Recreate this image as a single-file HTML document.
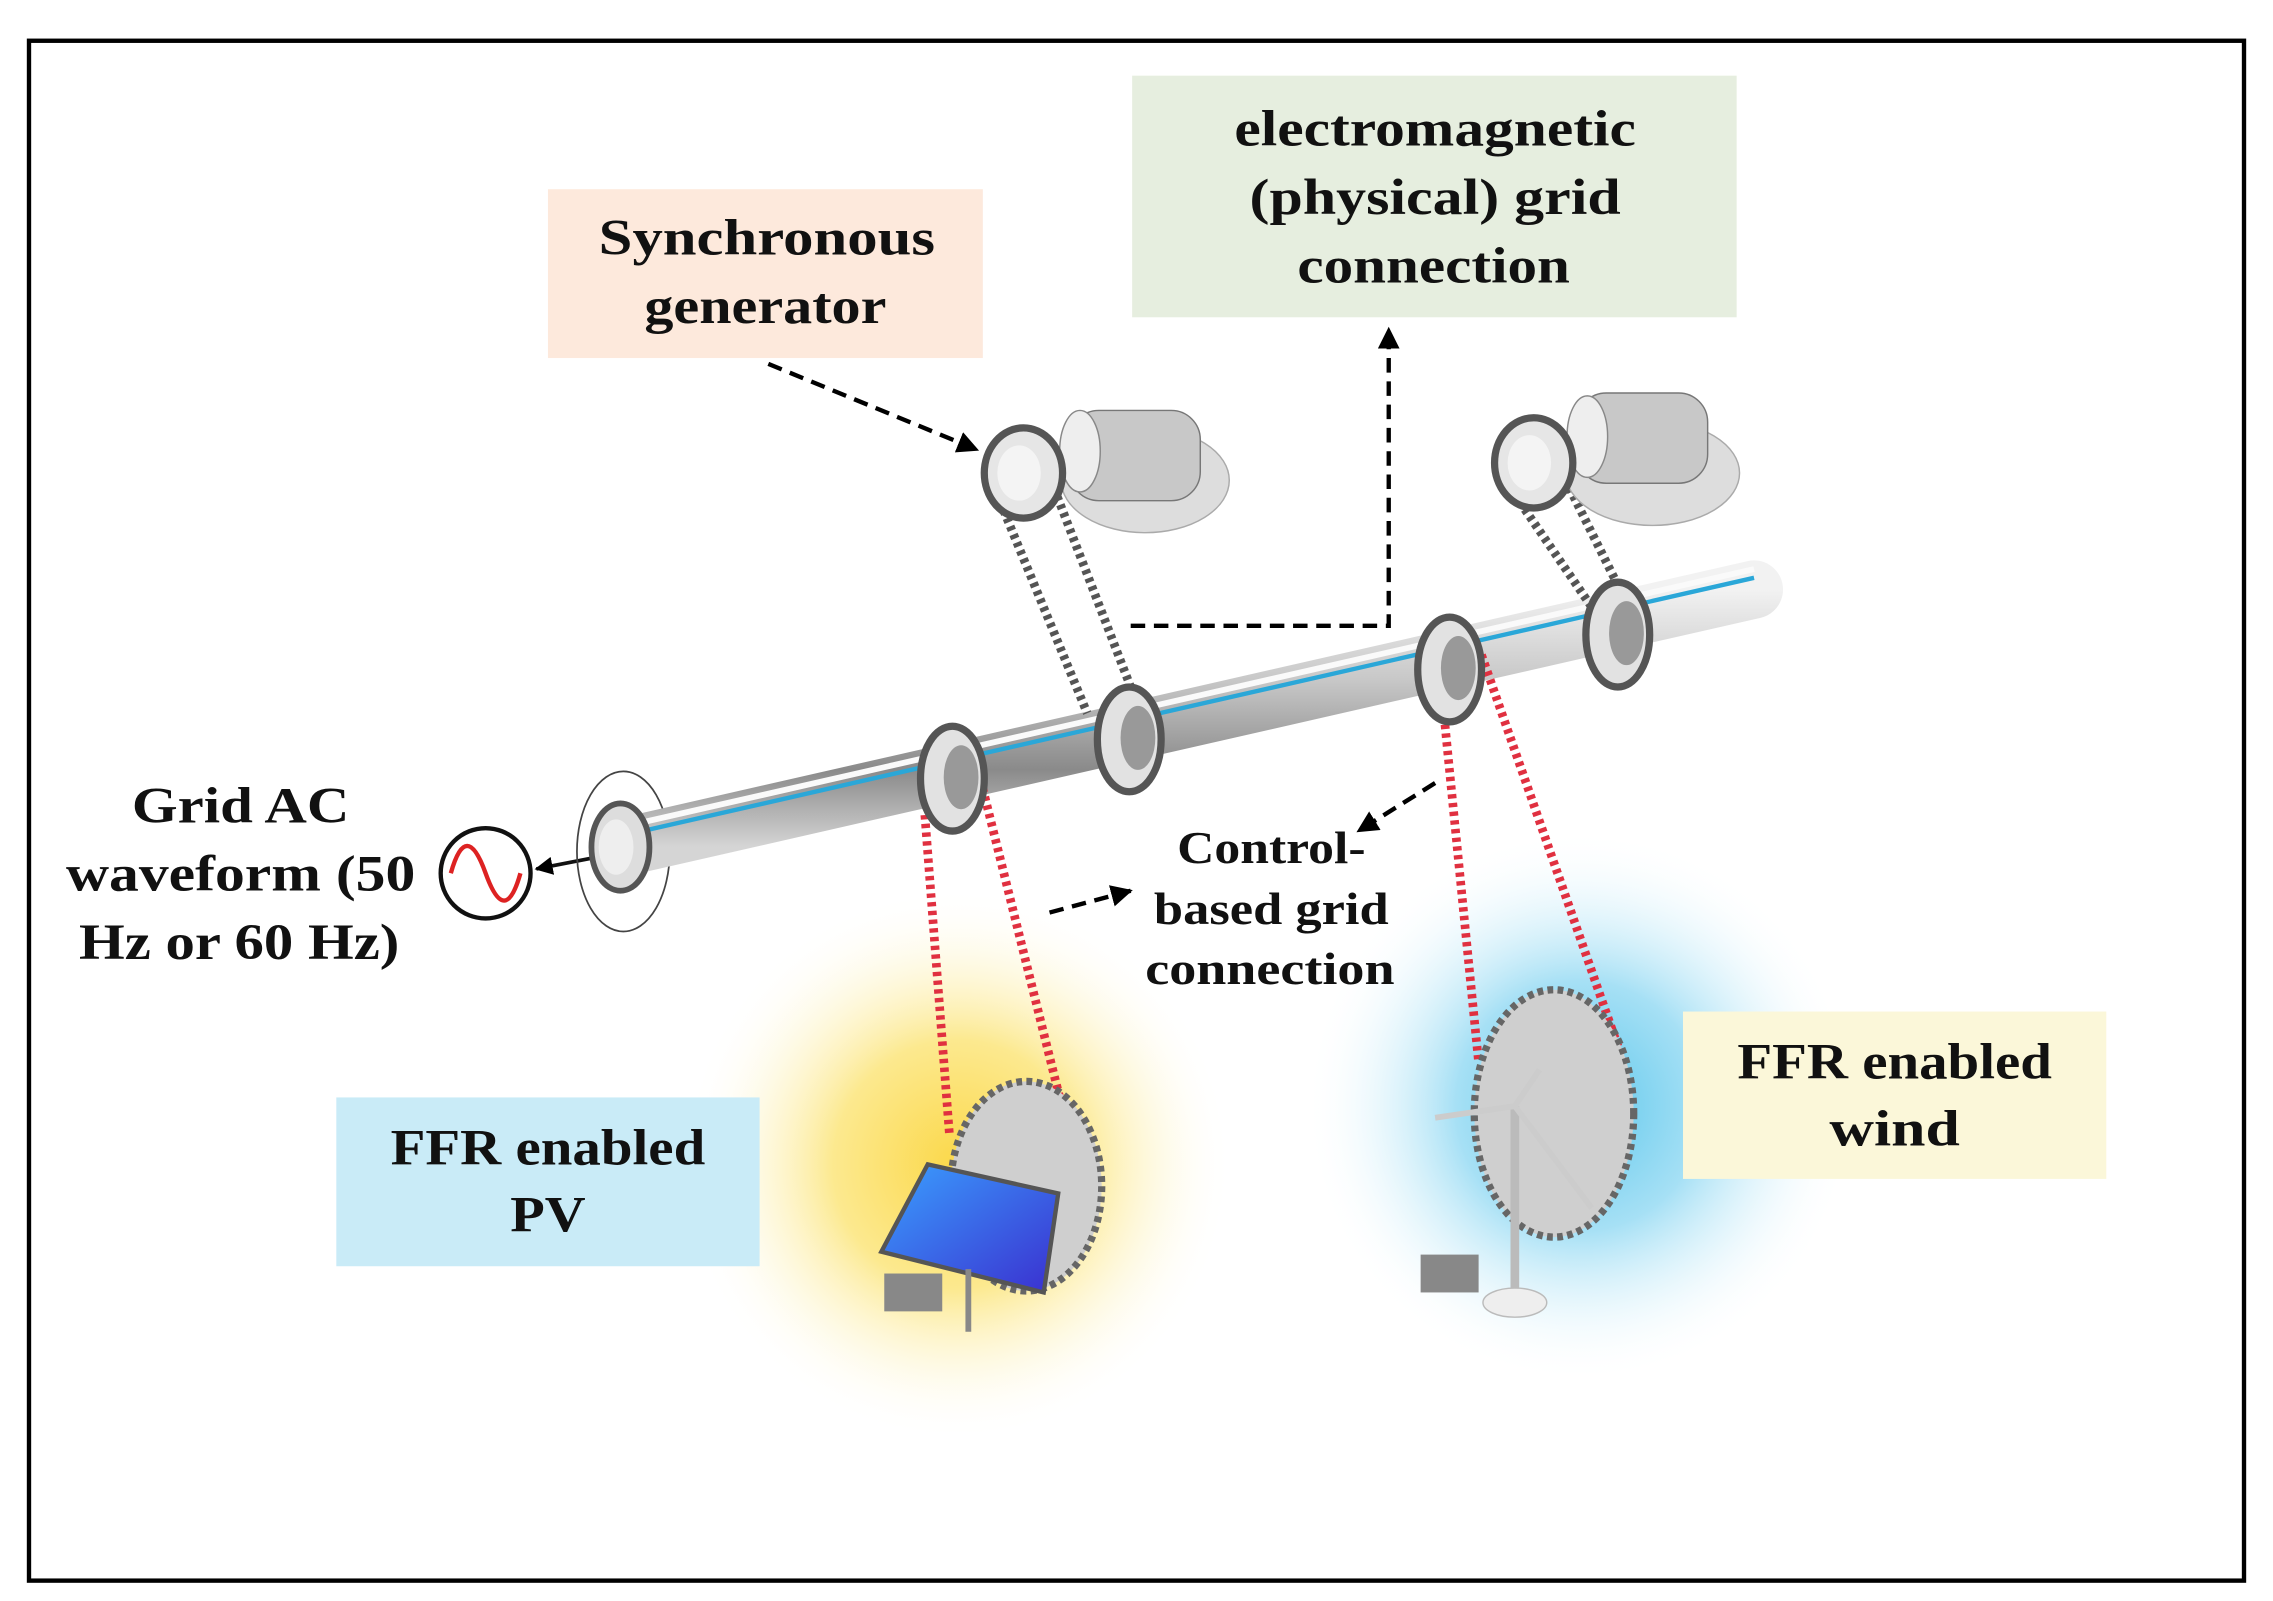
<!DOCTYPE html>
<html><head><meta charset="utf-8"><style>
html,body{margin:0;padding:0;background:#fff;}
svg{display:block;}
text{font-family:"Liberation Serif",serif;font-weight:bold;fill:#111;}
</style></head><body>
<svg width="2273" height="1601" viewBox="0 0 1568 1100" preserveAspectRatio="none" xmlns="http://www.w3.org/2000/svg">
<defs>
<radialGradient id="gy" cx="0.5" cy="0.5" r="0.5">
<stop offset="0" stop-color="#fbd84a"/><stop offset="0.45" stop-color="#fce98f"/><stop offset="1" stop-color="#fff" stop-opacity="0"/></radialGradient>
<radialGradient id="gb" cx="0.5" cy="0.5" r="0.5">
<stop offset="0" stop-color="#5fc8ec"/><stop offset="0.45" stop-color="#a6e0f5"/><stop offset="1" stop-color="#fff" stop-opacity="0"/></radialGradient>
<linearGradient id="sh" x1="0" y1="0" x2="0" y2="1">
<stop offset="0" stop-color="#f2f2f2"/><stop offset="0.35" stop-color="#c8c8c8"/><stop offset="0.7" stop-color="#8a8a8a"/><stop offset="1" stop-color="#d5d5d5"/></linearGradient>
<linearGradient id="pv" x1="0" y1="0" x2="1" y2="1">
<stop offset="0" stop-color="#3aa0ff"/><stop offset="1" stop-color="#3a2fcf"/></linearGradient>
<marker id="ah" viewBox="0 0 10 10" refX="9" refY="5" markerWidth="5" markerHeight="5" orient="auto"><path d="M0,0L10,5L0,10z" fill="#000"/></marker>
</defs>
<rect x="20" y="28" width="1528" height="1058" fill="#fff" stroke="#000" stroke-width="3"/>
<circle cx="660" cy="800" r="190" fill="url(#gy)"/>
<circle cx="1090" cy="760" r="190" fill="url(#gb)"/>
<rect x="378" y="130" width="300" height="116" fill="#fde9dc"/>
<text x="529" y="175" font-size="35" text-anchor="middle" textLength="232" lengthAdjust="spacingAndGlyphs">Synchronous</text>
<text x="528" y="222" font-size="35" text-anchor="middle" textLength="167" lengthAdjust="spacingAndGlyphs">generator</text>
<rect x="781" y="52" width="417" height="166" fill="#e6eedf"/>
<text x="990" y="100" font-size="35" text-anchor="middle" textLength="277" lengthAdjust="spacingAndGlyphs">electromagnetic</text>
<text x="990" y="147" font-size="35" text-anchor="middle" textLength="256" lengthAdjust="spacingAndGlyphs">(physical)  grid</text>
<text x="989" y="194" font-size="35" text-anchor="middle" textLength="188" lengthAdjust="spacingAndGlyphs">connection</text>
<rect x="232" y="754" width="292" height="116" fill="#c9ebf7"/>
<text x="378" y="800" font-size="35" text-anchor="middle" textLength="217" lengthAdjust="spacingAndGlyphs">FFR enabled</text>
<text x="378" y="846" font-size="35" text-anchor="middle" textLength="52" lengthAdjust="spacingAndGlyphs">PV</text>
<rect x="1161" y="695" width="292" height="115" fill="#fbf7d9"/>
<text x="1307" y="741" font-size="35" text-anchor="middle" textLength="217" lengthAdjust="spacingAndGlyphs">FFR enabled</text>
<text x="1307" y="787" font-size="35" text-anchor="middle" textLength="90" lengthAdjust="spacingAndGlyphs">wind</text>
<text x="166" y="565" font-size="35" text-anchor="middle" textLength="150" lengthAdjust="spacingAndGlyphs">Grid AC</text>
<text x="166" y="612" font-size="35" text-anchor="middle" textLength="241" lengthAdjust="spacingAndGlyphs">waveform (50</text>
<text x="165" y="659" font-size="35" text-anchor="middle" textLength="221" lengthAdjust="spacingAndGlyphs">Hz or 60 Hz)</text>
<text x="877" y="593" font-size="31" text-anchor="middle" textLength="130" lengthAdjust="spacingAndGlyphs">Control-</text>
<text x="877" y="635" font-size="31" text-anchor="middle" textLength="162" lengthAdjust="spacingAndGlyphs">based grid</text>
<text x="876" y="676" font-size="31" text-anchor="middle" textLength="172" lengthAdjust="spacingAndGlyphs">connection</text>
<circle cx="335" cy="600" r="31" fill="#fff" stroke="#111" stroke-width="3"/>
<path d="M311,600 C318,575 326,575 335,600 C344,625 352,625 359,600" fill="none" stroke="#d22" stroke-width="3"/>
<line x1="432" y1="585" x2="370" y2="597" stroke="#111" stroke-width="2.5" marker-end="url(#ah)"/>
<ellipse cx="430" cy="585" rx="32" ry="55" fill="none" stroke="#444" stroke-width="1.2"/>
<line x1="430" y1="582" x2="1210" y2="405" stroke="url(#sh)" stroke-width="40" stroke-linecap="round"/>
<line x1="430" y1="574" x2="1210" y2="397" stroke="#2aa7d8" stroke-width="3"/>
<line x1="430" y1="568" x2="1210" y2="391" stroke="#fafafa" stroke-width="4"/>
<ellipse cx="428" cy="582" rx="20" ry="30" fill="#ddd" stroke="#555" stroke-width="4"/>
<ellipse cx="425" cy="582" rx="12" ry="19" fill="#eee"/>
<g stroke="#555" stroke-width="6" stroke-dasharray="3 3" fill="none">
<line x1="690" y1="345" x2="750" y2="490"/><line x1="725" y1="330" x2="785" y2="485"/>
<line x1="1045" y1="340" x2="1100" y2="420"/><line x1="1080" y1="330" x2="1125" y2="420"/>
</g>
<g stroke="#e03040" stroke-width="6" stroke-dasharray="3 3" fill="none">
<line x1="638" y1="560" x2="655" y2="780"/><line x1="675" y1="530" x2="750" y2="830"/>
<line x1="995" y1="480" x2="1020" y2="730"/><line x1="1022" y1="450" x2="1120" y2="730"/>
</g>
<g fill="#e2e2e2" stroke="#555" stroke-width="5">
<ellipse cx="657" cy="535" rx="22" ry="36"/>
<ellipse cx="779" cy="508" rx="22" ry="36"/>
<ellipse cx="1000" cy="460" rx="22" ry="36"/>
<ellipse cx="1116" cy="436" rx="22" ry="36"/>
</g>
<g fill="#999">
<ellipse cx="663" cy="534" rx="12" ry="22"/><ellipse cx="785" cy="507" rx="12" ry="22"/>
<ellipse cx="1006" cy="459" rx="12" ry="22"/><ellipse cx="1122" cy="435" rx="12" ry="22"/>
</g>
<g>
<ellipse cx="790" cy="330" rx="58" ry="36" fill="#ddd" stroke="#aaa"/>
<rect x="738" y="282" width="90" height="62" rx="20" fill="#c8c8c8" stroke="#777"/>
<ellipse cx="745" cy="310" rx="14" ry="28" fill="#eee" stroke="#888"/>
<ellipse cx="706" cy="325" rx="27" ry="31" fill="#e6e6e6" stroke="#555" stroke-width="5"/>
<ellipse cx="703" cy="325" rx="15" ry="19" fill="#f4f4f4"/>
<ellipse cx="1140" cy="325" rx="60" ry="36" fill="#ddd" stroke="#aaa"/>
<rect x="1088" y="270" width="90" height="62" rx="20" fill="#c8c8c8" stroke="#777"/>
<ellipse cx="1095" cy="300" rx="14" ry="28" fill="#eee" stroke="#888"/>
<ellipse cx="1058" cy="318" rx="27" ry="31" fill="#e6e6e6" stroke="#555" stroke-width="5"/>
<ellipse cx="1055" cy="318" rx="15" ry="19" fill="#f4f4f4"/>
</g>
<ellipse cx="708" cy="815" rx="52" ry="72" fill="#cfcfcf" stroke="#666" stroke-width="5" stroke-dasharray="4 3"/>
<ellipse cx="1072" cy="765" rx="55" ry="85" fill="#cfcfcf" stroke="#666" stroke-width="5" stroke-dasharray="4 3"/>
<polygon points="640,800 730,820 720,888 608,860" fill="url(#pv)" stroke="#555" stroke-width="3"/>
<rect x="610" y="875" width="40" height="26" fill="#888"/>
<line x1="668" y1="872" x2="668" y2="915" stroke="#888" stroke-width="4"/>
<line x1="1045" y1="760" x2="1045" y2="895" stroke="#bbb" stroke-width="6"/>
<line x1="1045" y1="760" x2="990" y2="768" stroke="#ccc" stroke-width="4"/>
<line x1="1045" y1="760" x2="1062" y2="735" stroke="#ccc" stroke-width="4"/>
<line x1="1045" y1="760" x2="1098" y2="830" stroke="#ccc" stroke-width="4"/>
<ellipse cx="1045" cy="895" rx="22" ry="10" fill="#eee" stroke="#bbb"/>
<rect x="980" y="862" width="40" height="26" fill="#888"/>
<g stroke="#000" stroke-width="3" stroke-dasharray="10 6" fill="none">
<line x1="530" y1="250" x2="674" y2="309" marker-end="url(#ah)"/>
<polyline points="780,430 958,430 958,226" marker-end="url(#ah)"/>
<line x1="990" y1="538" x2="937" y2="571" marker-end="url(#ah)"/>
<line x1="724" y1="627" x2="780" y2="612" marker-end="url(#ah)"/>
</g>
</svg>
</body></html>
